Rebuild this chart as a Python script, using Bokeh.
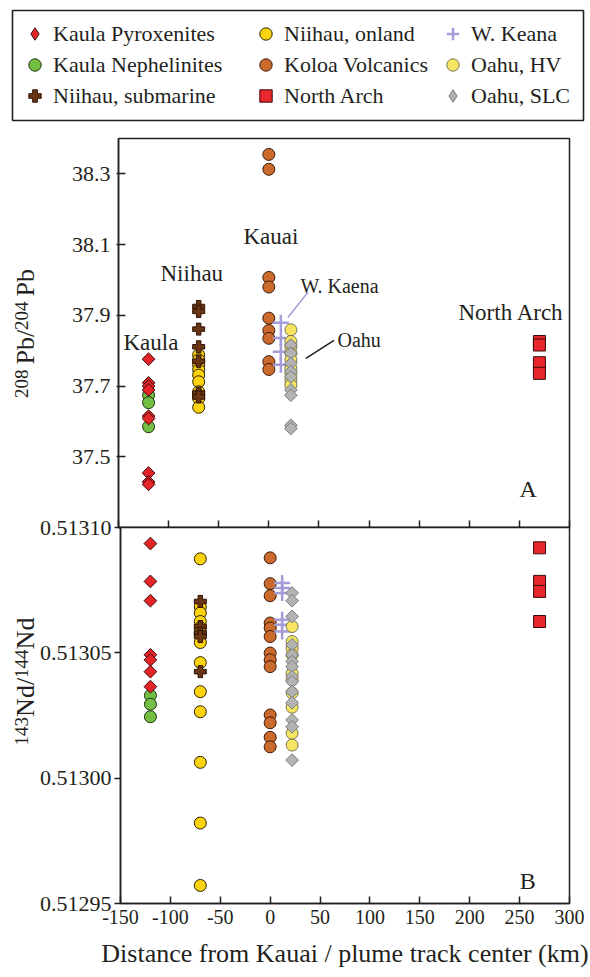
import math
from bokeh.plotting import figure
from bokeh.layouts import column, row
from bokeh.models import (Range1d, FixedTicker, PrintfTickFormatter,
                          CustomJSTickFormatter, Label, Legend, LegendItem)
from bokeh.embed import file_html
from bokeh.resources import INLINE

FONT = "Liberation Serif"
INK = "#231f20"

# ---------------- data ----------------
# distance from Kauai / plume track center (km) for each group
km_kaula = -120
km_niihau = -70
km_kauai = 0
km_w_keana = 12
km_oahu = 22
km_north_arch = 270

# 208Pb/204Pb (panel A)
pb_kaula_pyroxenites = [37.776, 37.709, 37.700, 37.689, 37.615, 37.608, 37.454, 37.429, 37.422]
pb_kaula_nephelinites = [37.674, 37.653, 37.585]
pb_niihau_submarine = [37.925, 37.911, 37.861, 37.811, 37.770, 37.680, 37.669]
pb_niihau_onland = [37.788, 37.774, 37.760, 37.746, 37.731, 37.712, 37.684, 37.674, 37.665, 37.640]
pb_koloa = [38.355, 38.313, 38.007, 37.980, 37.892, 37.857, 37.835, 37.769, 37.747]
pb_w_keana = [37.879, 37.836, 37.797, 37.760]
pb_oahu_hv = [37.859, 37.826, 37.811, 37.793, 37.774, 37.750, 37.736, 37.717, 37.703]
pb_oahu_slc = [37.816, 37.793, 37.764, 37.741, 37.726, 37.689, 37.674, 37.589, 37.580]
pb_north_arch = [37.826, 37.816, 37.766, 37.736]

# 143Nd/144Nd (panel B)
nd_kaula_pyroxenites = [0.5130936, 0.5130785, 0.5130708, 0.5130492, 0.5130472, 0.5130425, 0.5130365]
nd_kaula_nephelinites = [0.5130330, 0.5130295, 0.5130245]
nd_niihau_submarine = [0.5130705, 0.5130605, 0.5130579, 0.5130565, 0.5130425]
nd_niihau_onland = [0.5130875, 0.5130683, 0.5130659, 0.5130625, 0.5130600, 0.5130580, 0.5130541,
                    0.5130461, 0.5130345, 0.5130265, 0.5130063, 0.5129821, 0.5129572]
nd_koloa = [0.5130879, 0.5130776, 0.5130728, 0.5130619, 0.5130599, 0.5130565, 0.5130499,
            0.5130472, 0.5130445, 0.5130252, 0.5130221, 0.5130163, 0.5130125]
nd_w_keana = [0.5130779, 0.5130759, 0.5130739, 0.5130632, 0.5130612, 0.5130585]
nd_oahu_hv = [0.5130605, 0.5130545, 0.5130519, 0.5130492, 0.5130419, 0.5130392, 0.5130340,
              0.5130283, 0.5130179, 0.5130132]
nd_oahu_slc = [0.5130739, 0.5130708, 0.5130645, 0.5130532, 0.5130492, 0.5130465, 0.5130445,
               0.5130405, 0.5130385, 0.5130345, 0.5130301, 0.5130232, 0.5130205, 0.5130072]
nd_north_arch = [0.5130919, 0.5130785, 0.5130745, 0.5130625]

# axes
x_ticks = [-150, -100, -50, 0, 50, 100, 150, 200, 250, 300]
pb_ticks = [37.5, 37.7, 37.9, 38.1, 38.3]
nd_ticks = [0.51295, 0.51300, 0.51305, 0.51310]
x_label = "Distance from Kauai / plume track center (km)"
# y titles as (text, superscript?, gap after in px)
pb_title = [("208", True, 5), ("Pb/", False, 0), ("204", True, 5), ("Pb", False, 0)]
nd_title = [("143", True, 0), ("Nd/", False, 0), ("144", True, 0), ("Nd", False, 0)]

# callout lines (panel A)
kaena_line_km = [39, 19]
kaena_line_pb = [37.965, 37.894]
oahu_line_km = [65, 37]
oahu_line_pb = [37.829, 37.778]

LEGEND_COLUMNS = [
    ["Kaula Pyroxenites", "Kaula Nephelinites", "Niihau, submarine"],
    ["Niihau, onland", "Koloa Volcanics", "North Arch"],
    ["W. Keana", "Oahu, HV", "Oahu, SLC"],
]

# ---------------- styles ----------------
DIAMOND = math.pi / 4
STYLE = {
    "Kaula Pyroxenites": dict(marker="square", angle=DIAMOND, size=9, fill_color="#e42528",
                              line_color="#3d0a0a", line_width=1),
    "Kaula Nephelinites": dict(marker="circle", size=12, fill_color="#72bf44",
                               line_color="#1e3311", line_width=1),
    "Niihau, submarine": dict(marker="plus", size=12, fill_color="#6b3412",
                              line_color="#2b1306", line_width=1),
    "Niihau, onland": dict(marker="circle", size=12, fill_color="#fdd20e",
                           line_color="#2e2300", line_width=1),
    "Koloa Volcanics": dict(marker="circle", size=12, fill_color="#cb6a2d",
                            line_color="#3b1a08", line_width=1),
    "North Arch": dict(marker="square", size=12, fill_color="#e8262d",
                       line_color="#3a0a0a", line_width=1),
    "W. Keana": dict(marker="cross", size=16, line_color="#a49dd9", line_width=2.5),
    "Oahu, HV": dict(marker="circle", size=12, fill_color="#f7e463",
                     line_color="#77735a", line_width=1),
    "Oahu, SLC": dict(marker="square", angle=DIAMOND, size=9, fill_color="#b3b3b3",
                      line_color="#7b7b7b", line_width=1),
}

SERIES = [
    ("Kaula Nephelinites", km_kaula, pb_kaula_nephelinites, nd_kaula_nephelinites),
    ("Kaula Pyroxenites", km_kaula, pb_kaula_pyroxenites, nd_kaula_pyroxenites),
    ("Koloa Volcanics", km_kauai, pb_koloa, nd_koloa),
    ("Niihau, onland", km_niihau, pb_niihau_onland, nd_niihau_onland),
    ("Niihau, submarine", km_niihau, pb_niihau_submarine, nd_niihau_submarine),
    ("W. Keana", km_w_keana, pb_w_keana, nd_w_keana),
    ("Oahu, HV", km_oahu, pb_oahu_hv, nd_oahu_hv),
    ("Oahu, SLC", km_oahu, pb_oahu_slc, nd_oahu_slc),
    ("North Arch", km_north_arch, pb_north_arch, nd_north_arch),
]

# ---------------- layout constants (page pixels) ----------------
W = 590
YT_W = 36                      # strip holding the rotated y titles
FRAME_L, FRAME_R = 118, 569
LEG_H = 132
A_TOP, A_BOT = 138, 527
B_TOP, B_BOT = 527, 903
A_MB_TOP, A_MB_BOT = A_TOP - LEG_H, 4
B_MB_TOP, B_MB_BOT = 10, 70
B_OVERLAP = 14
PB_RANGE = (37.3, 38.4)
ND_RANGE = (0.51295, 0.51310)
A_H = A_MB_TOP + (A_BOT - A_TOP) + A_MB_BOT
B_H = B_MB_TOP + (B_BOT - B_TOP) + B_MB_BOT


def xk(px):
    return -150 + (px - FRAME_L) * 450.0 / (FRAME_R - FRAME_L)


def ya(px):
    return PB_RANGE[0] + (A_BOT - px) * (PB_RANGE[1] - PB_RANGE[0]) / (A_BOT - A_TOP)


def yb(px):
    return ND_RANGE[0] + (B_BOT - px) * (ND_RANGE[1] - ND_RANGE[0]) / (B_BOT - B_TOP)


TW = {'0': .5, '1': .5, '2': .5, '3': .5, '4': .5, '5': .5, '6': .5, '7': .5, '8': .5,
      '9': .5, 'P': .556, 'b': .5, '/': .278, 'N': .722, 'd': .5}


def tw(s, size):
    return sum(TW[c] for c in s) * size


def base_fig(height, yr, mb_top, mb_bottom, **kw):
    p = figure(width=W - YT_W, height=height, x_range=Range1d(-150, 300), y_range=Range1d(*yr),
               toolbar_location=None, tools="", output_backend="svg",
               min_border_left=FRAME_L - YT_W, min_border_right=W - FRAME_R,
               min_border_top=mb_top, min_border_bottom=mb_bottom, **kw)
    p.frame_align = False
    p.xgrid.visible = False
    p.ygrid.visible = False
    p.outline_line_color = INK
    p.outline_line_width = 1.5
    p.outline_line_alpha = 1
    p.border_fill_color = None
    p.background_fill_color = "white"
    for ax in (p.xaxis[0], p.yaxis[0]):
        ax.axis_line_color = INK
        ax.axis_line_width = 1.5
        ax.major_tick_line_color = INK
        ax.major_tick_line_width = 1.5
        ax.minor_tick_line_color = None
        ax.major_label_text_font = FONT
        ax.major_label_text_color = INK
        ax.axis_label_text_font = FONT
        ax.axis_label_text_font_style = "normal"
        ax.axis_label_text_color = INK
    p.xaxis.ticker = FixedTicker(ticks=x_ticks)
    p.xaxis.major_tick_in = 7
    p.xaxis.major_tick_out = 0
    return p


def title_strip(height, yr, mb_top, mb_bottom, segs, center_px, ymap, main=26, sup=19,
                main_x=25, sup_x=21):
    s = figure(width=YT_W, height=height, x_range=Range1d(0, YT_W), y_range=Range1d(*yr),
               toolbar_location=None, tools="", output_backend="svg",
               min_border_left=0, min_border_right=0, min_border_top=mb_top,
               min_border_bottom=mb_bottom, x_axis_location=None, y_axis_location=None)
    s.frame_align = False
    s.xgrid.visible = False
    s.ygrid.visible = False
    s.outline_line_color = None
    s.border_fill_color = None
    s.background_fill_color = None
    total = sum(tw(t, sup if is_sup else main) + g for t, is_sup, g in segs)
    start = center_px + total / 2.0
    off = 0.0
    for text, is_sup, gap in segs:
        size = sup if is_sup else main
        s.add_layout(Label(x=sup_x if is_sup else main_x, y=ymap(start - off), text=text,
                           angle=math.pi / 2, text_font=FONT, text_font_size=f"{size}px",
                           text_color=INK, text_align="left", text_baseline="middle"))
        off += tw(text, size) + gap
    return s


# ---------------- panel A ----------------
pA = base_fig(A_H, PB_RANGE, A_MB_TOP, A_MB_BOT)
pA.xaxis.formatter = CustomJSTickFormatter(code="return ''")
pA.xaxis.major_label_text_font_size = "0px"
pA.xaxis.major_label_standoff = 0
pA.yaxis.ticker = FixedTicker(ticks=pb_ticks)
pA.yaxis.formatter = PrintfTickFormatter(format="%.1f")
pA.yaxis.major_tick_in = 7
pA.yaxis.major_tick_out = 2
pA.yaxis.major_label_standoff = 6
pA.yaxis.major_label_text_font_size = "22px"

# ---------------- panel B ----------------
pB = base_fig(B_H, ND_RANGE, B_MB_TOP, B_MB_BOT)
pB.yaxis.ticker = FixedTicker(ticks=nd_ticks)
pB.yaxis.formatter = PrintfTickFormatter(format="%.5f")
pB.yaxis.major_tick_in = 0
pB.yaxis.major_tick_out = 6
pB.yaxis.major_label_standoff = 3
pB.yaxis.major_label_text_font_size = "22px"
pB.xaxis.formatter = PrintfTickFormatter(format="%d")
pB.xaxis.major_label_text_font_size = "20px"
pB.xaxis.major_label_standoff = 6
pB.xaxis.axis_label = x_label
pB.xaxis.axis_label_text_font_size = "26px"
pB.xaxis.axis_label_standoff = 12

for name, km, pb, nd in SERIES:
    pA.scatter(x=[km] * len(pb), y=pb, **STYLE[name])
    pB.scatter(x=[km] * len(nd), y=nd, **STYLE[name])

# callouts
pA.line(x=kaena_line_km, y=kaena_line_pb, line_color="#a49dd9", line_width=1.5)
pA.line(x=oahu_line_km, y=oahu_line_pb, line_color=INK, line_width=1.5)

ANNOT_A = [("Kaula", 123, 342, 23), ("Niihau", 160, 273, 23), ("Kauai", 243, 236, 23),
           ("W. Kaena", 300, 285, 20), ("Oahu", 337, 339, 20), ("North Arch", 458, 312, 23),
           ("A", 519, 488, 24)]
for text, px, py, fs in ANNOT_A:
    pA.add_layout(Label(x=xk(px), y=ya(py), text=text, text_font=FONT,
                        text_font_size=f"{fs}px", text_color=INK,
                        text_align="left", text_baseline="alphabetic"))
pB.add_layout(Label(x=xk(519), y=yb(880), text="B", text_font=FONT, text_font_size="24px",
                    text_color=INK, text_align="left", text_baseline="alphabetic"))

# ---------------- y-axis titles ----------------
tA = title_strip(A_H, PB_RANGE, A_MB_TOP, A_MB_BOT, pb_title, 333, ya)
tB = title_strip(B_H, ND_RANGE, B_MB_TOP, B_MB_BOT, nd_title, 681, yb)

# ---------------- legend box ----------------
leg = figure(width=W, height=LEG_H, x_range=Range1d(0, 1), y_range=Range1d(0, 1),
             toolbar_location=None, tools="", output_backend="svg",
             min_border_left=12, min_border_right=7, min_border_top=10, min_border_bottom=12,
             x_axis_location=None, y_axis_location=None)
leg.frame_align = False
leg.xgrid.visible = False
leg.ygrid.visible = False
leg.outline_line_color = INK
leg.outline_line_width = 1.6
leg.border_fill_color = None

leg_r = {}
for name, km, pb, nd in SERIES:
    st = dict(STYLE[name])
    if st.get("angle"):
        st.pop("angle")
        st["marker"] = "diamond"
    leg_r[name] = leg.scatter(x=[km] * len(pb), y=pb, **st)  # outside the legend's ranges

ROW = 31
for names, x_rel in zip(LEGEND_COLUMNS, [7, 238, 425]):
    lg = Legend(items=[LegendItem(label=n, renderers=[leg_r[n]]) for n in names],
                location=(x_rel, 9), orientation="vertical", border_line_color=None,
                background_fill_alpha=0, padding=0, margin=0, spacing=0,
                glyph_width=ROW, glyph_height=ROW, label_height=ROW, label_standoff=3,
                label_text_font=FONT, label_text_font_size="22px", label_text_color=INK,
                label_text_baseline="middle")
    leg.add_layout(lg, "center")

rowA = row(tA, pA)
rowB = row(tB, pB)
rowB.margin = (-B_OVERLAP, 0, 0, 0)
layout = column(leg, rowA, rowB)
open("out.html", "w").write(file_html(layout, INLINE))
